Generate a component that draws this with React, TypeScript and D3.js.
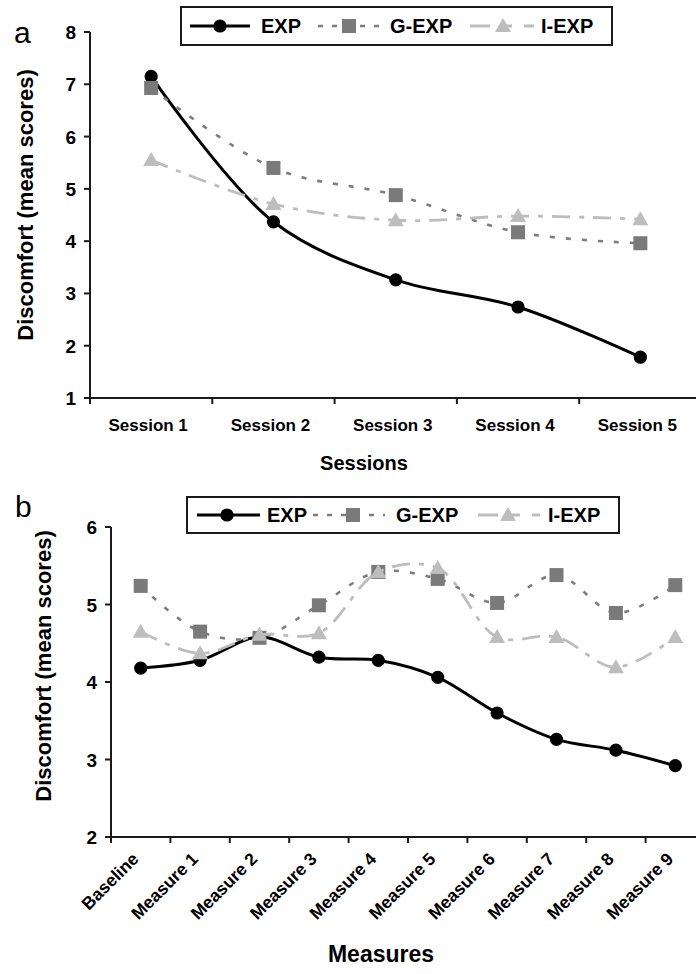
import React from "react";
import * as d3 from "d3";

// Panel a: discomfort across sessions
const sessions = ["Session 1", "Session 2", "Session 3", "Session 4", "Session 5"];
const expA = [7.15, 4.37, 3.26, 2.74, 1.78];
const gexpA = [6.93, 5.4, 4.88, 4.17, 3.96];
const iexpA = [5.55, 4.71, 4.4, 4.48, 4.42];
const ticksA = [1, 2, 3, 4, 5, 6, 7, 8];

// Panel b: discomfort across measures
const measures = [
  "Baseline", "Measure 1", "Measure 2", "Measure 3", "Measure 4",
  "Measure 5", "Measure 6", "Measure 7", "Measure 8", "Measure 9",
];
const expB = [4.18, 4.28, 4.58, 4.32, 4.28, 4.06, 3.6, 3.26, 3.12, 2.92];
const gexpB = [5.24, 4.65, 4.57, 4.99, 5.42, 5.33, 5.02, 5.38, 4.89, 5.25];
const iexpB = [4.65, 4.37, 4.61, 4.63, 5.42, 5.47, 4.58, 4.58, 4.19, 4.58];
const ticksB = [2, 3, 4, 5, 6];

const seriesNames = ["EXP", "G-EXP", "I-EXP"];

const FONT = "'Liberation Sans', Arial, Helvetica, sans-serif";
const AXIS = "#1a1a1a";

type Style = { stroke: string; width: number; dash?: string; marker: "circle" | "square" | "triangle"; fill: string };
const styles: Style[] = [
  { stroke: "#000", width: 3, marker: "circle", fill: "#000" },
  { stroke: "#7d7d7d", width: 2.6, dash: "5 11", marker: "square", fill: "#7a7a7a" },
  { stroke: "#bdbdbd", width: 2.8, dash: "18 9 5 9", marker: "triangle", fill: "#bdbdbd" },
];

function Marker({ x, y, s }: { x: number; y: number; s: Style }) {
  if (s.marker === "circle") return <circle cx={x} cy={y} r={6} fill={s.fill} stroke={s.fill} strokeWidth={1.2} />;
  if (s.marker === "square") return <rect x={x - 7} y={y - 7} width={14} height={14} fill={s.fill} />;
  return <path d={`M${x},${y - 8}L${x + 8},${y + 6}L${x - 8},${y + 6}Z`} fill={s.fill} />;
}

function Legend({ x0, y0, x1, y1, items }: { x0: number; y0: number; x1: number; y1: number; items: { l0: number; l1: number; m: number; t: number }[] }) {
  const cy = (y0 + y1) / 2;
  return (
    <g>
      <rect x={x0} y={y0} width={x1 - x0} height={y1 - y0} fill="#fff" stroke={AXIS} strokeWidth={2} />
      {items.map((it, i) => (
        <g key={i}>
          <line x1={it.l0} x2={it.l1} y1={cy} y2={cy} stroke={styles[i].stroke} strokeWidth={styles[i].width}
            strokeDasharray={i === 1 ? "5 9" : i === 2 ? "20 12 10 12" : undefined} />
          <Marker x={it.m} y={cy} s={styles[i]} />
          <text x={it.t} y={cy + 7} fontFamily={FONT} fontWeight="bold" fontSize={20}>{seriesNames[i]}</text>
        </g>
      ))}
    </g>
  );
}

function Panel(props: {
  cats: string[]; data: number[][]; ticks: number[];
  xr: [number, number]; yr: [number, number]; dom: [number, number];
  rotate: boolean; xTitle: string; xTitleX: number; xTitleY: number; xTitleSize: number;
  yTitleX: number; yTitleY: number; letter: string; letterX: number; letterY: number;
  tickY: number;
}) {
  const x = d3.scaleBand<string>().domain(props.cats).range(props.xr).paddingInner(0).paddingOuter(0);
  const y = d3.scaleLinear().domain(props.dom).range(props.yr);
  const cx = (c: string) => (x(c) as number) + x.bandwidth() / 2;
  const line = d3.line<number>().x((_, i) => cx(props.cats[i])).y((v) => y(v)).curve(d3.curveCatmullRom.alpha(0.5));
  const axisY = y(props.dom[0]);
  const x0 = props.xr[0];
  const bounds = props.cats.map((c) => x(c) as number);
  return (
    <g>
      <text x={props.letterX} y={props.letterY} fontFamily={FONT} fontSize={30}>{props.letter}</text>
      {/* y axis */}
      <line x1={x0} x2={x0} y1={y(props.dom[1])} y2={axisY} stroke={AXIS} strokeWidth={2} />
      {props.ticks.map((t) => (
        <g key={t}>
          <line x1={x0 - 6} x2={x0} y1={y(t)} y2={y(t)} stroke={AXIS} strokeWidth={2} />
          <text x={x0 - 14} y={y(t) + 7} textAnchor="end" fontFamily={FONT} fontWeight="bold" fontSize={19}>{t}</text>
        </g>
      ))}
      {/* x axis */}
      <line x1={x0} x2={props.xr[1]} y1={axisY} y2={axisY} stroke={AXIS} strokeWidth={2} />
      {bounds.map((b, i) => (
        <line key={i} x1={b} x2={b} y1={axisY} y2={axisY + 6} stroke={AXIS} strokeWidth={2} />
      ))}
      {props.cats.map((c) =>
        props.rotate ? (
          <text key={c} transform={`translate(${cx(c) - 1},${props.tickY}) rotate(-45)`} textAnchor="end"
            fontFamily={FONT} fontWeight="bold" fontSize={17.5}>{c}</text>
        ) : (
          <text key={c} x={cx(c) - 3} y={props.tickY} textAnchor="middle" fontFamily={FONT} fontWeight="bold" fontSize={17}>{c}</text>
        )
      )}
      <text x={props.xTitleX} y={props.xTitleY} textAnchor="middle" fontFamily={FONT} fontWeight="bold" fontSize={props.xTitleSize}>{props.xTitle}</text>
      <text transform={`translate(${props.yTitleX},${props.yTitleY}) rotate(-90)`} textAnchor="middle"
        fontFamily={FONT} fontWeight="bold" fontSize={22}>Discomfort (mean scores)</text>
      {/* series */}
      {props.data.map((vals, si) => (
        <g key={si}>
          <path d={line(vals) || ""} fill="none" stroke={styles[si].stroke} strokeWidth={styles[si].width}
            strokeDasharray={styles[si].dash} strokeLinejoin="round" />
          {vals.map((v, i) => <Marker key={i} x={cx(props.cats[i])} y={y(v)} s={styles[si]} />)}
        </g>
      ))}
    </g>
  );
}

export default function App() {
  return (
    <svg width={696} height={974} style={{ position: "absolute", left: 0, top: 0, background: "#fff" }}>
      <rect width={696} height={974} fill="#fff" />
      <Panel cats={sessions} data={[expA, gexpA, iexpA]} ticks={ticksA}
        xr={[90, 701.5]} yr={[398, 32]} dom={[1, 8]} rotate={false}
        xTitle="Sessions" xTitleX={364} xTitleY={470} xTitleSize={20}
        yTitleX={33} yTitleY={205} letter="a" letterX={14} letterY={43} tickY={431} />
      <Legend x0={181} y0={7} x1={612} y1={45}
        items={[{ l0: 190, l1: 250, m: 220, t: 261 }, { l0: 318, l1: 380, m: 349, t: 390 }, { l0: 470, l1: 534, m: 503, t: 541 }]} />
      <Panel cats={measures} data={[expB, gexpB, iexpB]} ticks={ticksB}
        xr={[111, 705]} yr={[837, 527]} dom={[2, 6]} rotate={true}
        xTitle="Measures" xTitleX={381} xTitleY={962} xTitleSize={23}
        yTitleX={51} yTitleY={666} letter="b" letterX={15} letterY={517} tickY={860} />
      <Legend x0={187} y0={497} x1={619} y1={533}
        items={[{ l0: 197, l1: 260, m: 227, t: 267 }, { l0: 313, l1: 385, m: 353, t: 396 }, { l0: 478, l1: 540, m: 508, t: 548 }]} />
    </svg>
  );
}
